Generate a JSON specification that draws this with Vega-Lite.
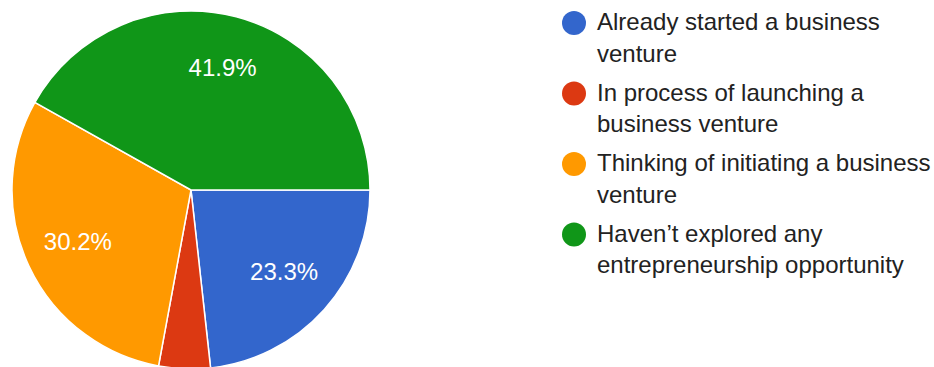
{
  "$schema": "https://vega.github.io/schema/vega-lite/v6.json",
  "width": 382,
  "height": 380,
  "padding": 0,
  "background": "white",
  "config": {"view": {"stroke": null}, "font": "Liberation Sans", "style": {"guide-label": {"lineHeight": 31.5}}},
  "data": {
    "values": [
      {"answer": "Already started a business venture", "count": 10, "label": "23.3%", "ord": 1},
      {"answer": "In process of launching a business venture", "count": 2, "label": "", "ord": 2},
      {"answer": "Thinking of initiating a business venture", "count": 13, "label": "30.2%", "ord": 3},
      {"answer": "Haven’t explored any entrepreneurship opportunity", "count": 18, "label": "41.9%", "ord": 4}
    ]
  },
  "encoding": {
    "theta": {"field": "count", "type": "quantitative", "stack": true, "scale": {"range": [1.5707963, 7.8539816]}},
    "order": {"field": "ord", "type": "quantitative"},
    "color": {
      "field": "answer",
      "type": "nominal",
      "scale": {
        "domain": ["Already started a business venture", "In process of launching a business venture", "Thinking of initiating a business venture", "Haven’t explored any entrepreneurship opportunity"],
        "range": ["#3366cc", "#dc3912", "#ff9900", "#109618"]
      },
      "legend": {
        "orient": "none",
        "legendX": 562,
        "legendY": 11,
        "title": null,
        "symbolType": "circle",
        "symbolSize": 576,
        "symbolStrokeWidth": 0,
        "symbolOpacity": 1,
        "labelFont": "Liberation Sans",
        "labelFontSize": 24,
        "labelColor": "#222222",
        "labelOffset": 11,
        "labelLimit": 0,
        "rowPadding": 14.5,
        "labelExpr": "datum.label == 'Already started a business venture' ? ['Already started a business', 'venture'] : datum.label == 'In process of launching a business venture' ? ['In process of launching a', 'business venture'] : datum.label == 'Thinking of initiating a business venture' ? ['Thinking of initiating a business', 'venture'] : ['Haven’t explored any', 'entrepreneurship opportunity']"
      }
    }
  },
  "layer": [
    {"mark": {"type": "arc", "outerRadius": 179, "stroke": "white", "strokeWidth": 1.5}},
    {
      "mark": {"type": "text", "radius": 125, "fontSize": 24, "fill": "white", "font": "Liberation Sans"},
      "encoding": {"text": {"field": "label", "type": "nominal"}, "color": {"value": "white"}}
    }
  ]
}
